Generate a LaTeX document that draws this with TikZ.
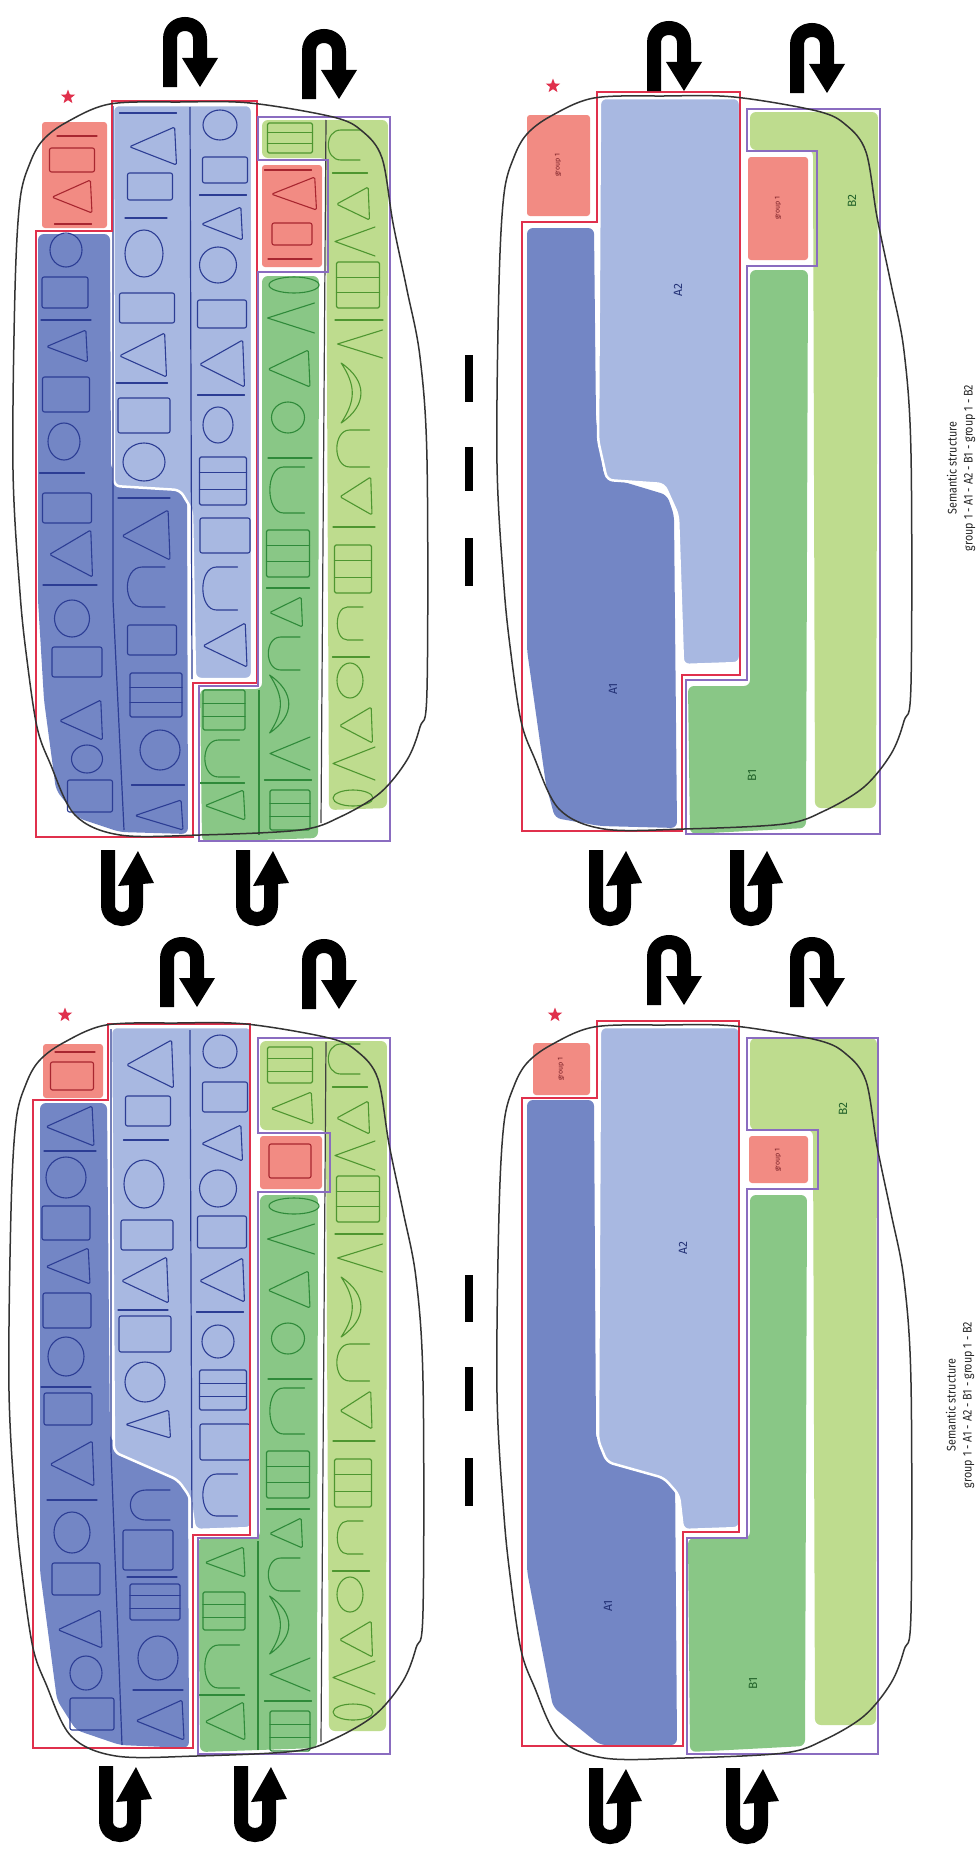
\documentclass[tikz,border=0pt]{standalone}
\usepackage{fontspec}
\newfontfamily\labfont{Fira Sans}
\newfontfamily\capfont[FakeStretch=0.86]{Fira Sans}
\usetikzlibrary{shapes.geometric}
\definecolor{cAone}{HTML}{7386C5}
\definecolor{cAtwo}{HTML}{A8B8E1}
\definecolor{cBone}{HTML}{89C786}
\definecolor{cBtwo}{HTML}{BEDC8E}
\definecolor{cGrp}{HTML}{F28B83}
\definecolor{cRed}{HTML}{E0304C}
\definecolor{cPur}{HTML}{8A6CC0}
\definecolor{cNavy}{HTML}{2C3D94}
\definecolor{cGrn}{HTML}{2F8A3A}
\definecolor{cLgrn}{HTML}{4E9630}
\definecolor{cDred}{HTML}{A82630}
\definecolor{glc}{HTML}{2C3D94}
% glyph shapes in a unit box, y negative = top
\newcommand\glO{\draw[gl] (0,0) ellipse [x radius=0.5,y radius=0.5];}
\newcommand\glR{\draw[gl,rounded corners=2pt] (-0.5,-0.5) rectangle (0.5,0.5);}
\newcommand\glT{\draw[gl,rounded corners=1.5pt] (-0.5,0.02) -- (0.46,-0.5) -- (0.5,0.5) -- cycle;}
\newcommand\glU{\draw[gl] (0.5,-0.5) -- (-0.1,-0.5) .. controls (-0.62,-0.5) and (-0.62,0.5) .. (-0.1,0.5) -- (0.5,0.5);}
\newcommand\glB{\draw[gl,rounded corners=1.5pt] (-0.5,-0.5) rectangle (0.5,0.5); \draw[gl] (-0.5,-0.17) -- (0.5,-0.17) (-0.5,0.17) -- (0.5,0.17);}
\newcommand\glV{\draw[gl] (0.5,-0.5) -- (-0.5,0) -- (0.5,0.5);}
\newcommand\glM{\draw[gl] (-0.45,-0.5) .. controls (0.35,-0.2) and (0.35,0.2) .. (-0.45,0.5) .. controls (0,0.12) and (0,-0.12) .. (-0.45,-0.5) -- cycle;}
\newcommand\glL{\draw[gl] (-0.5,0) -- (0.5,0);}
\newcommand\gly[5]{\pgfmathsetmacro\gcy{((#4)+(#5))/2}\pgfmathsetmacro\gh{max((#5)-(#4),1)}%
  \begin{scope}[shift={(#2,\gcy)},xscale=#3,yscale=\gh]\csname gl#1\endcsname\end{scope}}
\newcommand\glyphsX[2]{\foreach \t/\cx/\w/\ya/\yb in {#1}{\gly{\t}{\cx}{\w}{\ya+#2}{\yb+#2}}}
\newcommand\glyphsM[2]{\expandafter\glyphsX\expandafter{#1}{#2}}
% top-left lists
\def\TLAoneA{O/66/32/233/267, R/65/46/277/308, L/66/50/320/320, T/67/41/330/362, R/66/47/377/412, O/64/32/423/460, L/62/45/473/473, R/67/49/493/523, T/71/43/530/577, L/70/54/585/585, O/72/35/600/637, R/77/50/647/677, T/81/43/700/740, O/87/31/745/773, R/90/45/780/812}
\def\TLAoneB{L/144/52/498/498, T/146/48/510/560, U/146/38/567/607, R/152/49/625/655, B/156/52/673/717, O/160/40/730/770, L/158/53/785/785, T/159/48/800/830}
\def\TLAtwoA{L/148/57/113/113, T/153/47/127/165, R/150/45/173/200, L/146/42/218/218, O/144/38/230/277, R/147/55/293/323, T/143/47/333/377, L/142/51/383/383, R/144/52/398/433, O/144/42/443/481}
\def\TLAtwoB{O/220/34/110/140, R/225/45/157/183, L/223/47/195/195, T/222/41/207/240, O/218/37/247/283, R/222/49/300/328, T/222/45/340/387, L/221/47/395/395, O/218/30/407/443, B/223/47/457/505, R/225/50/518/553, U/220/35/567/610, T/225/44/623/667}
\def\TLGa{L/77/40/136/136, R/72/45/148/172, T/72/40/180/213, L/73/37/224/224}
\def\TLGb{L/288/47/170/170, T/294/45/177/210, R/292/40/223/245, L/290/44/259/259}
\def\TLBtwoS{B/290/45/123/153}
\def\TLBtwo{U/344/32/130/160, L/350/35/173/173, T/353/33/187/220, V/355/40/227/256, B/358/43/262/308, L/359/48/320/320, V/360/45/330/358, M/356/33/363/423, U/353/33/430/467, T/356/32/477/515, L/354/42/527/527, B/353/37/545/593, U/350/26/607/640, L/351/37/657/657, O/350/26/663/698, T/356/33/707/743, V/354/42/747/780, O/353/40/790/806}
\def\TLBoneR{O/294/50/277/293, V/291/47/303/333, T/289/42/350/387, O/288/33/402/433, L/290/44/458/458, U/287/35/467/513, B/288/43/530/577, L/288/43/588/588, T/286/33/597/627, U/284/32/637/670, M/284/32/675/733, V/290/40/737/770, L/288/47/780/780, B/290/40/790/830}
\def\TLBoneL{B/224/42/690/730, U/222/35/740/777, L/222/45/783/783, T/225/40/790/820}
% bottom-left lists
\def\BLAoneA{T/70/48/1106/1146, L/70/52/1151/1151, O/66/40/1157/1198, R/66/48/1206/1240, T/68/44/1248/1284, R/67/48/1293/1328, O/66/36/1337/1376, L/66/50/1387/1387, R/68/48/1393/1425, T/72/44/1441/1486, L/72/50/1500/1500, O/72/36/1512/1553, R/76/48/1563/1595, T/80/44/1610/1648, O/86/32/1656/1690, R/92/44/1698/1730}
\def\BLAoneB{U/150/40/1490/1520, R/148/50/1530/1570, L/152/50/1577/1577, B/155/50/1584/1620, O/158/40/1636/1680, L/158/50/1690/1690, T/160/48/1700/1740}
\def\BLAtwoA{T/150/47/1040/1088, R/148/45/1096/1126, L/146/45/1140/1140, O/144/40/1160/1208, R/147/52/1220/1250, T/145/47/1257/1303, L/143/50/1310/1310, R/145/52/1316/1352, O/145/40/1362/1402, T/148/45/1410/1438}
\def\BLAtwoB{O/220/34/1035/1068, R/225/45/1082/1112, T/222/41/1125/1161, O/218/37/1170/1207, R/222/49/1216/1248, T/222/45/1258/1302, L/220/47/1312/1312, O/218/32/1325/1358, B/223/47/1370/1410, R/225/50/1424/1460, U/220/35/1474/1516}
\def\BLGa{L/75/40/1052/1052, R/72/43/1062/1090}
\def\BLGb{R/290/42/1144/1178}
\def\BLBtwoS{B/290/45/1047/1083, T/292/42/1092/1124}
\def\BLBoneL{T/225/40/1547/1577, B/224/42/1592/1630, U/222/35/1645/1688, L/222/45/1695/1695, T/225/40/1702/1740}
\newcommand\blob[2]{\draw[blobline,shift={(#1,#2)}] plot[smooth cycle,tension=0.55] coordinates {(110,104) (180,102) (250,103) (333,117) (362,131) (382,158) (393,223) (407,290) (420,357) (427,460) (427,690) (420,727) (407,760) (380,793) (340,817) (300,830) (200,835) (120,835) (75,815) (50,763) (37,727) (27,660) (20,593) (13,470) (15,290) (20,200) (30,163) (43,140) (67,122)};}
\tikzset{
  pics/turndown/.style={code={
    \draw[line width=14pt] (0,63) -- (0,15) .. controls (0,-5) and (30,-5) .. (30,15) -- (30,36);
    \fill (12,34) -- (48,34) -- (30,63) -- cycle;}},
  pics/turnup/.style={code={
    \draw[line width=14pt] (0,0) -- (0,55) .. controls (0,73.7) and (28,73.7) .. (28,55) -- (28,34);
    \fill (10,36) -- (46,33) -- (30,1) -- cycle;}},
}
\begin{document}
\begin{tikzpicture}[x=1pt,y=-1pt,
  gl/.style={draw=glc,line width=1.1pt,line join=round,line cap=round},
  redline/.style={draw=cRed,line width=2.2pt},
  purline/.style={draw=cPur,line width=2.2pt},
  blobline/.style={draw=black!80,line width=1.5pt},
  divline/.style={line width=1.2pt},
  grpbox/.style={fill=cGrp,rounded corners=3pt},
  aonefill/.style={fill=cAone,rounded corners=6pt},
  atwofill/.style={fill=cAtwo,draw=white,line width=2.5pt,rounded corners=6pt},
  bonefill/.style={fill=cBone,rounded corners=6pt},
  btwofill/.style={fill=cBtwo,rounded corners=6pt},
  lab/.style={rotate=90,font=\labfont\fontsize{12}{14}\selectfont},
  grplab/.style={rotate=90,font=\labfont\fontsize{7}{8}\selectfont,text=cDred!70!black},
  captext/.style={rotate=90,align=center,font=\capfont\fontsize{12.5}{16}\selectfont,text=black!85},
  starmark/.style={star,star points=5,star point ratio=2.4,fill=cRed,minimum size=15pt,inner sep=0pt},
  dashbar/.style={fill=black},
]
\useasboundingbox (0,0) rectangle (977,1852);
\fill[white] (0,0) rectangle (977,1852);

%% ================= TOP-LEFT (detailed) =================
\fill[grpbox] (42,122) rectangle (107,228);
\fill[grpbox] (262,165) rectangle (322,267);
\fill[aonefill] (38,234) -- (110,234) -- (111,470) -- (187,478) -- (188,834) -- (120,832) -- (78,818) -- (56,790) -- (44,700) -- (38,600) -- cycle;
\filldraw[atwofill] (113,105) -- (252,105) -- (252,679) -- (195,679) -- (192,510) -- (180,490) -- (114,486) -- cycle;
\fill[bonefill] (262,276) -- (319,276) -- (318,838) -- (202,842) -- (200,689) -- (262,689) -- cycle;
\fill[btwofill] (262,120) -- (388,120) -- (387,808) -- (329,810) -- (326,158) -- (262,158) -- cycle;
\colorlet{glc}{cNavy}
\glyphsM{\TLAoneA}{0}\glyphsM{\TLAoneB}{0}\glyphsM{\TLAtwoA}{0}\glyphsM{\TLAtwoB}{0}
\colorlet{glc}{cDred}
\glyphsM{\TLGa}{0}\glyphsM{\TLGb}{0}
\colorlet{glc}{cLgrn}
\glyphsM{\TLBtwoS}{0}\glyphsM{\TLBtwo}{0}
\colorlet{glc}{cGrn}
\glyphsM{\TLBoneR}{0}\glyphsM{\TLBoneL}{0}
\draw[divline,draw=cNavy] (113,106) -- (113,600) -- (124,830);
\draw[divline,draw=cNavy] (190,107) -- (192,679);
\draw[divline,draw=black!75] (326,120) -- (321,823);
\draw[divline,draw=cGrn] (259,690) -- (259,835);
\draw[redline] (36,231) -- (112,231) -- (112,101) -- (257,101) -- (257,683) -- (193,683) -- (193,837) -- (36,837) -- cycle;
\draw[purline] (258,117) -- (390,117) -- (390,841) -- (199,841) -- (199,686) -- (258,686) -- (258,272) -- (328,272) -- (328,160) -- (258,160) -- cycle;
\blob{0}{0}
\pic at (170,24) {turndown};
\pic at (309,36) {turndown};
\pic at (108,850) {turnup};
\pic at (243,850) {turnup};
\node[starmark] (starTL) at (68,97) {};
\fill[dashbar] (465,355) rectangle (473,402);
\fill[dashbar] (465,447) rectangle (473,491);
\fill[dashbar] (465,538) rectangle (473,586);

%% ================= TOP-RIGHT (semantic) =================
\fill[grpbox] (527,115) rectangle (590,216);
\fill[grpbox] (748,157) rectangle (808,260);
\fill[aonefill] (527,228) -- (594,228) -- (596,420) -- (604,476) -- (667,495) -- (674,515) -- (677,828) -- (600,826) -- (555,818) -- (546,785) -- (527,650) -- cycle;
\filldraw[atwofill] (600,98) -- (740,98) -- (740,663) -- (683,665) -- (678,515) -- (664,484) -- (607,480) -- (598,440) -- cycle;
\fill[bonefill] (750,270) -- (808,270) -- (806,828) -- (690,834) -- (688,686) -- (750,686) -- cycle;
\fill[btwofill] (750,112) -- (878,112) -- (876,808) -- (815,808) -- (813,150) -- (750,150) -- cycle;
\draw[redline] (522,222) -- (597,222) -- (597,92) -- (740,92) -- (740,675) -- (682,675) -- (682,831) -- (522,831) -- cycle;
\draw[purline] (747,109) -- (880,109) -- (880,834) -- (686,834) -- (686,680) -- (747,680) -- (747,266) -- (817,266) -- (817,151) -- (747,151) -- cycle;
\blob{484}{-6}
\pic at (654,28) {turndown};
\pic at (797,30) {turndown};
\pic at (596,850) {turnup};
\pic at (737,850) {turnup};
\node[starmark] (starTR) at (553,86) {};
\node[grplab] (gTRa) at (558,165) {group 1};
\node[grplab] (gTRb) at (778,208) {group 1};
\node[lab,text=cNavy!80!black] (lTRAtwo) at (678,290) {A2};
\node[lab,text=cNavy!80!black] (lTRAone) at (613,689) {A1};
\node[lab,text=cGrn!70!black] (lTRBone) at (752,775) {B1};
\node[lab,text=cGrn!70!black] (lTRBtwo) at (852,201) {B2};
\node[captext] (capTR) at (961,468) {Semantic structure\\group 1 - A1 - A2 - B1 - group 1 - B2};

%% ================= BOTTOM-LEFT (detailed) =================
\fill[grpbox] (43,1044) rectangle (103,1098);
\fill[grpbox] (260,1136) rectangle (322,1189);
\fill[aonefill] (40,1103) -- (107,1103) -- (110,1440) -- (188,1470) -- (189,1748) -- (120,1745) -- (76,1730) -- (57,1700) -- (40,1571) -- cycle;
\filldraw[atwofill] (111,1027) -- (252,1027) -- (252,1528) -- (195,1530) -- (190,1497) -- (178,1480) -- (114,1452) -- cycle;
\fill[bonefill] (260,1195) -- (318,1195) -- (317,1748) -- (200,1752) -- (198,1538) -- (260,1538) -- cycle;
\fill[btwofill] (260,1041) -- (387,1041) -- (386,1731) -- (329,1731) -- (326,1130) -- (260,1130) -- cycle;
\colorlet{glc}{cNavy}
\glyphsM{\BLAoneA}{0}\glyphsM{\BLAoneB}{0}\glyphsM{\BLAtwoA}{0}\glyphsM{\BLAtwoB}{0}
\colorlet{glc}{cDred}
\glyphsM{\BLGa}{0}\glyphsM{\BLGb}{0}
\colorlet{glc}{cLgrn}
\glyphsM{\BLBtwoS}{0}\glyphsM{\TLBtwo}{914}
\colorlet{glc}{cGrn}
\glyphsM{\TLBoneR}{921}\glyphsM{\BLBoneL}{0}
\draw[divline,draw=cNavy] (111,1029) -- (111,1450) -- (122,1745);
\draw[divline,draw=cNavy] (190,1030) -- (192,1528);
\draw[divline,draw=black!75] (326,1042) -- (321,1742);
\draw[divline,draw=cGrn] (258,1541) -- (258,1750);
\draw[redline] (33,1100) -- (108,1100) -- (108,1024) -- (250,1024) -- (250,1535) -- (193,1535) -- (193,1748) -- (33,1748) -- cycle;
\draw[purline] (258,1038) -- (390,1038) -- (390,1754) -- (198,1754) -- (198,1538) -- (258,1538) -- (258,1192) -- (330,1192) -- (330,1133) -- (258,1133) -- cycle;
\blob{-4}{921}
\pic at (167,944) {turndown};
\pic at (309,946) {turndown};
\pic at (106,1766) {turnup};
\pic at (241,1766) {turnup};
\node[starmark] (starBL) at (65,1015) {};
\fill[dashbar] (465,1275) rectangle (473,1322);
\fill[dashbar] (465,1367) rectangle (473,1411);
\fill[dashbar] (465,1458) rectangle (473,1506);

%% ================= BOTTOM-RIGHT (semantic) =================
\fill[grpbox] (533,1043) rectangle (590,1095);
\fill[grpbox] (749,1136) rectangle (808,1183);
\fill[aonefill] (527,1100) -- (594,1100) -- (596,1440) -- (675,1470) -- (677,1745) -- (600,1745) -- (553,1707) -- (527,1571) -- cycle;
\filldraw[atwofill] (600,1027) -- (740,1027) -- (740,1528) -- (683,1530) -- (679,1495) -- (664,1478) -- (607,1462) -- (598,1440) -- cycle;
\fill[bonefill] (750,1195) -- (807,1195) -- (805,1746) -- (690,1752) -- (688,1538) -- (750,1538) -- cycle;
\fill[btwofill] (750,1038) -- (877,1038) -- (876,1725) -- (815,1725) -- (813,1130) -- (750,1130) -- cycle;
\draw[redline] (522,1098) -- (597,1098) -- (597,1021) -- (739,1021) -- (739,1532) -- (683,1532) -- (683,1746) -- (522,1746) -- cycle;
\draw[purline] (747,1038) -- (878,1038) -- (878,1754) -- (687,1754) -- (687,1538) -- (747,1538) -- (747,1189) -- (818,1189) -- (818,1130) -- (747,1130) -- cycle;
\blob{484}{923}
\pic at (654,942) {turndown};
\pic at (797,944) {turndown};
\pic at (596,1768) {turnup};
\pic at (733,1768) {turnup};
\node[starmark] (starBR) at (555,1015) {};
\node[grplab] (gBRa) at (561,1069) {group 1};
\node[grplab] (gBRb) at (778,1160) {group 1};
\node[lab,text=cNavy!80!black] (lBRAtwo) at (683,1248) {A2};
\node[lab,text=cNavy!80!black] (lBRAone) at (608,1606) {A1};
\node[lab,text=cGrn!70!black] (lBRBone) at (753,1683) {B1};
\node[lab,text=cGrn!70!black] (lBRBtwo) at (843,1109) {B2};
\node[captext] (capBR) at (960,1405) {Semantic structure\\group 1 - A1 - A2 - B1 - group 1 - B2};
\end{tikzpicture}
\end{document}
